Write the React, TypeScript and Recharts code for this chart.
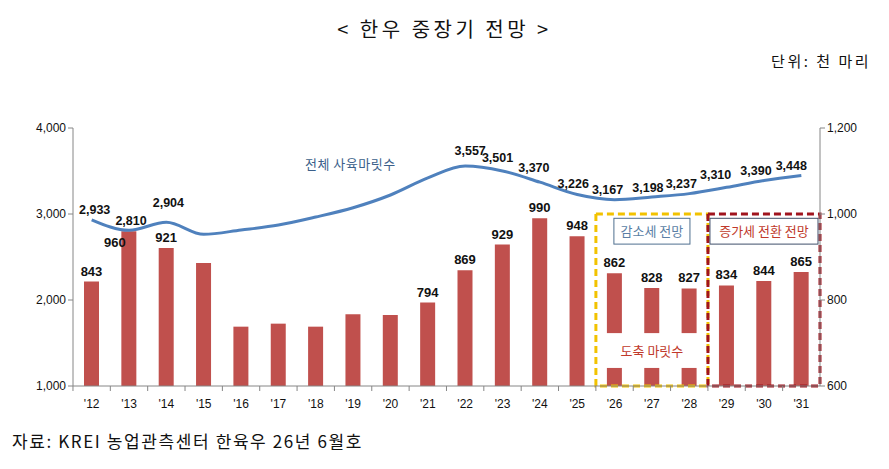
import { ComposedChart, Bar, Line, XAxis, YAxis, LabelList, ReferenceArea } from "recharts";

const years = ["'12", "'13", "'14", "'15", "'16", "'17", "'18", "'19", "'20", "'21", "'22", "'23", "'24", "'25", "'26", "'27", "'28", "'29", "'30", "'31"];
// 전체 사육마릿수 (천 마리)
const herd = [2933, 2810, 2904, 2764, 2814, 2872, 2965, 3073, 3221, 3419, 3557, 3501, 3370, 3226, 3167, 3198, 3237, 3310, 3390, 3448];
const herdLabels = [2933, 2810, 2904, null, null, null, null, null, null, null, 3557, 3501, 3370, 3226, 3167, 3198, 3237, 3310, 3390, 3448];
// 도축 마릿수 (천 마리)
const slaughter = [843, 960, 921, 886, 738, 745, 738, 767, 765, 794, 869, 929, 990, 948, 862, 828, 827, 834, 844, 865];
const slaughterLabels = [843, 960, 921, null, null, null, null, null, null, 794, 869, 929, 990, 948, 862, 828, 827, 834, 844, 865];

const leftTicks = [1000, 2000, 3000, 4000];
const rightTicks = [600, 800, 1000, 1200];

const data = years.map((year, i) => ({
  year,
  herd: herd[i],
  herdLabel: herdLabels[i],
  slaughter: slaughter[i],
  barLabel: slaughterLabels[i],
}));

const FONT = "'Noto Sans CJK KR', 'Noto Sans', sans-serif";
const NUM_FONT = "'Liberation Sans', Arial, sans-serif";
const BLUE = "#4F81BD";
const RED = "#C0504D";
const AXIS = "#868686";

// small nudges so labels don't sit on the line
const lineLabelShift: Record<number, [number, number]> = {
  0: [3, 4],
  1: [2, 5],
  2: [2, -5],
  10: [5, -1],
  11: [-5, 1],
  12: [-6, 0],
  13: [-4, 3],
  14: [-7, 4],
  15: [-4, 5],
  16: [-8, 4],
  17: [-11, 2],
  18: [-8, 5],
  19: [-10, 5],
};

const fmt = (v: number) => v.toLocaleString("en-US");

function LineLabel(props: any) {
  const { x, y, value, index } = props;
  if (value == null) return null;
  const [dx, dy] = lineLabelShift[index] || [0, 0];
  return (
    <text x={x + dx} y={y - 10 + dy} textAnchor="middle" fontSize={12.5} fontWeight="bold" fill="#111" fontFamily={NUM_FONT}>
      {fmt(value)}
    </text>
  );
}

function BarLabel(props: any) {
  const { x, y, width, value, index } = props;
  if (value == null) return null;
  const dx = index === 1 ? -14 : 0;
  const dy = index === 1 ? 22 : 0;
  return (
    <text x={x + width / 2 + dx} y={y - 6 + dy} textAnchor="middle" fontSize={13} fontWeight="bold" fill="#111" fontFamily={NUM_FONT}>
      {value}
    </text>
  );
}

function XTick(props: any) {
  const { x, y, payload } = props;
  const half = 18.7;
  return (
    <g>
      <line x1={x - half} y1={y - 8} x2={x - half} y2={y - 3} stroke={AXIS} />
      <text x={x} y={y + 14} textAnchor="middle" fontSize={12} fill="#111" fontFamily={NUM_FONT}>
        {payload.value}
      </text>
    </g>
  );
}

function NoteBox(color: string, border: string, text: string, inset: number) {
  return (props: any) => {
    const { x, y, width, height } = props;
    return (
      <g>
        <rect x={x + inset} y={y} width={width - inset * 2} height={height} fill="#fff" stroke={border} strokeWidth={1} />
        <text x={x + width / 2} y={y + height / 2 + 5} textAnchor="middle" fontSize={13} fill={color} fontFamily={FONT}>
          {text}
        </text>
      </g>
    );
  };
}

function GapLabel(props: any) {
  const { x, y, width, height } = props;
  return (
    <g>
      <rect x={x + 3} y={y} width={width - 6} height={height} fill="#fff" />
      <text x={x + width / 2} y={y + height / 2 + 5} textAnchor="middle" fontSize={13} fill="#C0392B" fontFamily={FONT}>
        도축 마릿수
      </text>
    </g>
  );
}

export default function App() {
  return (
    <div style={{ position: "absolute", left: 0, top: 0, width: 889, height: 469, background: "#fff", fontFamily: FONT }}>
      <div style={{ position: "absolute", top: 14, left: 0, width: 889, textAlign: "center", fontSize: 20, letterSpacing: 3.5, color: "#111" }}>
        &lt; 한우 중장기 전망 &gt;
      </div>
      <div style={{ position: "absolute", top: 50, right: 18, fontSize: 15, letterSpacing: 2.5, color: "#111" }}>단위: 천 마리</div>
      <div style={{ position: "absolute", top: 428, left: 12, fontSize: 17, letterSpacing: 1.6, color: "#111" }}>
        자료: KREI 농업관측센터 한육우 26년 6월호
      </div>

      <ComposedChart width={889} height={469} data={data} margin={{ top: 128, right: 9, bottom: 53, left: 13 }}>
        <XAxis dataKey="year" axisLine={{ stroke: AXIS }} tickLine={false} tick={<XTick />} height={30} />
        <YAxis
          yAxisId="left"
          domain={[1000, 4000]}
          ticks={leftTicks}
          tickFormatter={fmt}
          width={60}
          axisLine={{ stroke: AXIS }}
          tickLine={{ stroke: AXIS }}
          tickSize={5}
          tick={{ fontSize: 12, fill: "#111", fontFamily: NUM_FONT }}
        />
        <YAxis
          yAxisId="right"
          orientation="right"
          domain={[600, 1200]}
          ticks={rightTicks}
          tickFormatter={fmt}
          width={60}
          axisLine={{ stroke: AXIS }}
          tickLine={{ stroke: AXIS }}
          tickSize={5}
          tick={{ fontSize: 12, fill: "#111", fontFamily: NUM_FONT }}
        />
        <Bar yAxisId="right" dataKey="slaughter" fill={RED} barSize={15} isAnimationActive={false}>
          <LabelList dataKey="barLabel" content={<BarLabel />} />
        </Bar>
        <ReferenceArea yAxisId="right" x1="'26" x2="'28" y1={642} y2={723} shape={GapLabel} ifOverflow="visible" zIndex={350} />
        <ReferenceArea
          yAxisId="right"
          x1="'26"
          x2="'28"
          y1={600}
          y2={1000}
          fill="none"
          fillOpacity={0}
          stroke="#F2C200"
          strokeWidth={3}
          strokeDasharray="7 4"
          ifOverflow="visible"
          zIndex={360}
        />
        <ReferenceArea
          yAxisId="right"
          x1="'29"
          x2="'31"
          y1={600}
          y2={1000}
          fill="none"
          fillOpacity={0}
          stroke="#A0141E"
          strokeWidth={3}
          strokeDasharray="7 4"
          ifOverflow="visible"
          zIndex={360}
        />
        <ReferenceArea yAxisId="right" x1="'26" x2="'28" y1={930} y2={990} shape={NoteBox("#5B7FA6", "#4F6F8F", "감소세 전망", 18)} ifOverflow="visible" zIndex={370} />
        <ReferenceArea yAxisId="right" x1="'29" x2="'31" y1={930} y2={990} shape={NoteBox("#C0392B", "#3F4F6A", "증가세 전환 전망", 2)} ifOverflow="visible" zIndex={370} />
        <Line
          yAxisId="left"
          dataKey="herd"
          type="monotone"
          stroke={BLUE}
          strokeWidth={3}
          dot={false}
          isAnimationActive={false}
        >
          <LabelList dataKey="herdLabel" content={<LineLabel />} />
        </Line>
      </ComposedChart>
      <div style={{ position: "absolute", top: 154, left: 305, fontSize: 13, letterSpacing: 0.5, color: "#3B5F8A" }}>전체 사육마릿수</div>
    </div>
  );
}
